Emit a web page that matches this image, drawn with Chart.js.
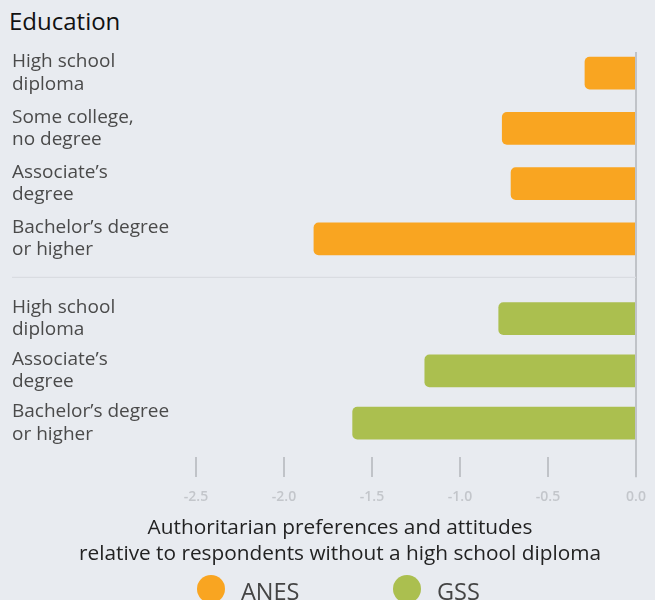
<!DOCTYPE html>
<html>
<head>
<meta charset="utf-8">
<script src="https://cdn.jsdelivr.net/npm/chart.js@4/dist/chart.umd.min.js"></script>
<style>
  body{margin:0;background:#e8ebf0;width:655px;height:600px;overflow:hidden;position:relative;font-family:"Open Sans",sans-serif;}
  #title{position:absolute;left:9px;top:9px;font-size:24px;line-height:24px;color:#111;}
  #wrapA{position:absolute;left:0;top:40px;width:655px;height:238px;}
  #wrapB{position:absolute;left:0;top:278px;width:655px;height:246px;}
  #axisTitle{position:absolute;left:0;top:513px;width:680px;text-align:center;font-size:20.8px;line-height:26px;color:#222;}
  #legend{position:absolute;left:0;top:575px;width:655px;height:30px;}
  .dot{position:absolute;top:0;width:28px;height:28px;border-radius:50%;}
  .lgtxt{position:absolute;top:2px;font-size:23.5px;line-height:28px;color:#444;}
</style>
</head>
<body>
<div id="title">Education</div>
<div id="wrapA"><canvas id="chartA"></canvas></div>
<div id="wrapB"><canvas id="chartB"></canvas></div>
<div id="axisTitle">Authoritarian preferences and attitudes<br>relative to respondents without a high school diploma</div>
<div id="legend"></div>
<script>
// data
anesLabels = [["High school","diploma"],["Some college,","no degree"],["Associate’s","degree"],["Bachelor’s degree","or higher"]];
anesValues = [-0.29,-0.76,-0.71,-1.83];
gssLabels = [["High school","diploma"],["Associate’s","degree"],["Bachelor’s degree","or higher"]];
gssValues = [-0.78,-1.2,-1.61];
xTicks = [-2.5,-2.0,-1.5,-1.0,-0.5,0.0];
seriesNames = ["ANES","GSS"];
seriesColors = ["#f9a521","#abbf4f"];

lineColor = '#c0c3c8';

function zeroLine(top, extra){
  return {
    id:'zeroLine',
    afterDatasetsDraw:function(chart){
      let ctx = chart.ctx;
      let x = chart.scales.x.getPixelForValue(0);
      ctx.save();
      ctx.strokeStyle = lineColor;
      ctx.lineWidth = 2;
      ctx.beginPath();
      ctx.moveTo(x, top);
      ctx.lineTo(x, extra===null ? chart.height : chart.chartArea.bottom+extra);
      ctx.stroke();
      ctx.restore();
    }
  };
}

sepLine = {
  id:'sepLine',
  afterDraw:function(chart){
    let ctx = chart.ctx;
    let x = chart.scales.x.getPixelForValue(0);
    ctx.save();
    ctx.strokeStyle = '#d9dce1';
    ctx.lineWidth = 1.5;
    ctx.beginPath();
    ctx.moveTo(12, chart.height-0.5);
    ctx.lineTo(x, chart.height-0.5);
    ctx.stroke();
    ctx.restore();
  }
};

function yAxis(){
  return {
    position:'left',
    grid:{display:false},
    border:{display:false},
    afterFit:function(s){
      s.width = 166.4;
      // labels may hang over the chart area edges, don't reserve room for them
      s.paddingTop = 0; s.paddingBottom = 0;
    },
    ticks:{
      autoSkip:false,
      crossAlign:'far',
      color:'#4a4a4a',
      font:{family:'"Open Sans"',size:19,lineHeight:1.18}
    }
  };
}

function xAxis(show){
  return {
    min:-2.6, max:0,
    display:show,
    afterBuildTicks:function(s){ s.ticks = xTicks.map(v=>({value:v})); },
    afterFit:function(s){ s.paddingLeft = 0; s.paddingRight = 0; },
    grid:{drawOnChartArea:false, color:lineColor, lineWidth:2, tickLength:28, tickBorderDash:[0,8,20,100]},
    border:{display:false},
    ticks:{
      color:'#c3c6cb',
      padding:11,
      font:{family:'"Open Sans"',size:14,weight:'600'},
      callback:function(v){ return v.toFixed(1); }
    }
  };
}

function barSet(label, data, color){
  return {
    label:label,
    data:data,
    backgroundColor:color,
    barThickness:32,
    borderRadius:5,
    borderSkipped:'start'
  };
}

new Chart(document.getElementById('chartA'), {
  type:'bar',
  data:{ labels:anesLabels, datasets:[barSet(seriesNames[0], anesValues, seriesColors[0])] },
  options:{
    indexAxis:'y',
    responsive:true, maintainAspectRatio:false, animation:false,
    layout:{padding:{left:12,right:19,top:5.6,bottom:11.6}},
    plugins:{legend:{display:false},tooltip:{enabled:false}},
    scales:{ x:xAxis(false), y:yAxis() }
  },
  plugins:[zeroLine(12,null), sepLine]
});

new Chart(document.getElementById('chartB'), {
  type:'bar',
  data:{ labels:gssLabels, datasets:[barSet(seriesNames[1], gssValues, seriesColors[1])] },
  options:{
    indexAxis:'y',
    responsive:true, maintainAspectRatio:false, animation:false,
    layout:{padding:{left:12,right:19,top:14.5,bottom:8}},
    plugins:{legend:{display:false},tooltip:{enabled:false}},
    scales:{ x:xAxis(true), y:yAxis() }
  },
  plugins:[zeroLine(0,28)]
});

// legend
lg = document.getElementById('legend');
lgPos = [[197,241],[393,437]];
for(let i=0;i<seriesNames.length;i++){
  let d = document.createElement('div');
  d.className='dot';
  d.style.left = lgPos[i][0]+'px';
  d.style.background = seriesColors[i];
  lg.appendChild(d);
  let t = document.createElement('div');
  t.className='lgtxt';
  t.style.left = lgPos[i][1]+'px';
  t.appendChild(document.createTextNode(seriesNames[i]));
  lg.appendChild(t);
}
</script>
</body>
</html>
